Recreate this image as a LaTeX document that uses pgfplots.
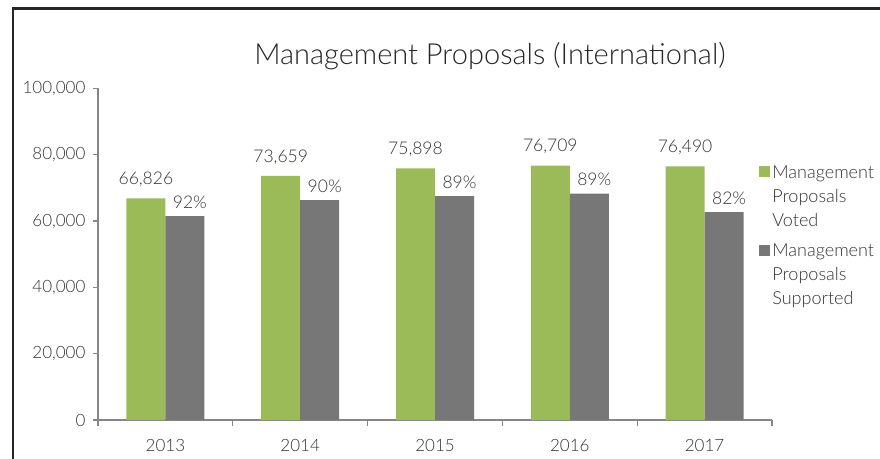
\documentclass[border=0pt]{standalone}
\usepackage{fontspec}
\setmainfont{Lato}[UprightFont={* Light}]
\usepackage{pgfplots}
\pgfplotsset{compat=1.18}
\definecolor{mgreen}{HTML}{9BBB59}
\definecolor{mgrey}{HTML}{777777}
\definecolor{axgrey}{HTML}{868686}
\begin{document}
\begin{tikzpicture}[x=1pt,y=1pt]
\useasboundingbox (0,0) rectangle (880,458);
\draw[line width=2.2pt,black!85] (13,-5) -- (13,449.5) -- (885,449.5);
\node[font=\fontsize{29}{34}\selectfont, text=black!85] at (490,402) {Management Proposals (International)};
\begin{axis}[
  at={(98pt,38pt)}, anchor=south west,
  scale only axis, width=674pt, height=331.5pt,
  xmin=-0.5, xmax=4.5, ymin=0, ymax=100000,
  ybar=0pt, bar width=39pt,
  axis x line*=bottom, axis y line*=left,
  axis line style={axgrey, line width=1.2pt},
  xtick={0,1,2,3,4}, xticklabels={2013,2014,2015,2016,2017},
  major x tick style={draw=none},
  minor xtick={-0.5,0.5,1.5,2.5,3.5,4.5},
  minor x tick style={axgrey, line width=1.2pt},
  minor tick length=6pt,
  ytick={0,20000,40000,60000,80000,100000},
  yticklabels={0,{20,000},{40,000},{60,000},{80,000},{100,000}},
  major y tick style={axgrey, line width=1.2pt},
  major tick length=5pt,
  tick align=outside,
  scaled y ticks=false,
  ticklabel style={font=\fontsize{17}{20}\selectfont, text=black!80},
  yticklabel style={xshift=-4pt},
  xticklabel style={yshift=-11pt},
  nodes near coords={\pgfplotspointmeta},
  point meta=explicit symbolic,
  every node near coord/.append style={font=\fontsize{17.5}{20}\selectfont, text=black!80},
  legend style={draw=none, at={(0.981,0.775)}, anchor=north west, fill=none,
    font=\fontsize{18}{24}\selectfont, text=black!80, cells={align=left},
    row sep=12pt, inner sep=0pt},
  legend cell align=left,
  legend image code/.code={\fill[#1] (0pt,19pt) rectangle (11pt,30pt);},
]
\addplot[fill=mgreen, draw=none, every node near coord/.append style={yshift=8pt}] coordinates {(0,66826)[66,826] (1,73659)[73,659] (2,75898)[75,898] (3,76709)[76,709] (4,76490)[76,490]};
\addlegendentry{Management\\Proposals\\Voted}
\addplot[fill=mgrey, draw=none, every node near coord/.append style={yshift=4pt, xshift=5pt}] coordinates {(0,61480)[92\%] (1,66293)[90\%] (2,67549)[89\%] (3,68271)[89\%] (4,62722)[82\%]};
\addlegendentry{Management\\Proposals\\Supported}
\end{axis}
\end{tikzpicture}
\end{document}
